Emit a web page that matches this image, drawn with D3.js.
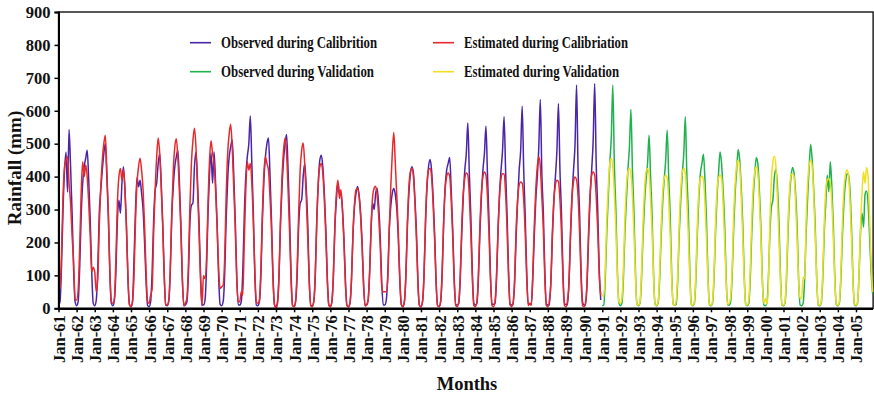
<!DOCTYPE html>
<html>
<head>
<meta charset="utf-8">
<script src="https://cdn.jsdelivr.net/npm/d3@7"></script>
<style>
  body { margin: 0; background: #fff; }
  svg text { font-family: "Liberation Serif", "Times New Roman", serif; font-weight: bold; fill: #111; }
</style>
</head>
<body>
<svg id="chart" width="874" height="395"></svg>
<script>
// Monthly rainfall (mm), Jan-61 .. Dec-90, one row per year
const obsCal = [
  10, 20, 130, 300, 420, 474, 353, 543, 430, 290, 120, 20,  // 1961
  8, 20, 120, 280, 380, 430, 455, 480, 390, 270, 110, 15,   // 1962
  8, 25, 120, 290, 360, 420, 470, 500, 400, 280, 110, 15,   // 1963
  8, 25, 110, 270, 328, 289, 380, 430, 360, 250, 90, 10,    // 1964
  5, 20, 150, 300, 398, 369, 389, 350, 300, 200, 80, 8,     // 1965
  5, 20, 110, 270, 359, 380, 440, 470, 380, 260, 100, 10,   // 1966
  8, 20, 110, 280, 370, 430, 460, 480, 390, 260, 90, 8,     // 1967
  10, 20, 100, 260, 313, 320, 430, 475, 390, 270, 110, 12,  // 1968
  10, 25, 120, 290, 410, 472, 380, 475, 380, 260, 100, 12,  // 1969
  8, 20, 100, 270, 390, 460, 490, 511, 410, 270, 100, 10,   // 1970
  10, 20, 110, 280, 400, 460, 500, 584, 440, 290, 100, 10,  // 1971
  8, 20, 100, 270, 390, 460, 500, 517, 410, 270, 100, 10,   // 1972
  5, 20, 100, 260, 370, 450, 500, 528, 420, 280, 100, 8,    // 1973
  5, 20, 100, 250, 319, 330, 400, 440, 370, 260, 90, 8,     // 1974
  8, 20, 100, 270, 380, 450, 465, 430, 350, 240, 90, 10,    // 1975
  5, 20, 100, 250, 330, 381, 350, 345, 300, 210, 80, 8,     // 1976
  5, 15, 90, 230, 310, 350, 370, 345, 290, 200, 70, 8,      // 1977
  10, 25, 110, 250, 319, 300, 350, 365, 310, 220, 80, 10,   // 1978
  10, 25, 100, 240, 310, 350, 364, 345, 300, 210, 80, 10,   // 1979
  5, 20, 100, 250, 350, 410, 430, 410, 330, 230, 80, 8,     // 1980
  5, 20, 100, 260, 370, 430, 452, 420, 340, 230, 80, 8,     // 1981
  5, 20, 110, 260, 370, 420, 440, 458, 360, 240, 90, 10,    // 1982
  10, 15, 90, 230, 340, 420, 470, 563, 410, 280, 110, 15,   // 1983
  10, 15, 90, 230, 340, 420, 470, 553, 410, 270, 100, 12,   // 1984
  12, 15, 90, 230, 350, 420, 480, 582, 420, 280, 110, 12,   // 1985
  10, 10, 80, 220, 330, 420, 480, 614, 420, 280, 110, 12,   // 1986
  12, 10, 90, 220, 330, 400, 490, 634, 410, 290, 110, 12,   // 1987
  10, 10, 80, 220, 330, 400, 480, 622, 420, 290, 110, 12,   // 1988
  12, 10, 80, 220, 340, 420, 500, 678, 420, 290, 110, 18,   // 1989
  10, 10, 80, 220, 340, 420, 510, 683, 440, 300, 120, 25    // 1990
];
const estCal = [
  55, 60, 170, 340, 430, 450, 460, 380, 320, 220, 140, 25,  // 1961
  25, 55, 180, 350, 445, 400, 435, 400, 320, 220, 110, 125, // 1962
  110, 50, 90, 250, 370, 450, 500, 526, 420, 290, 110, 20,  // 1963
  15, 30, 150, 320, 400, 425, 390, 420, 360, 240, 90, 12,   // 1964
  5, 20, 100, 270, 380, 430, 456, 420, 360, 250, 110, 20,   // 1965
  15, 40, 60, 230, 360, 460, 517, 470, 370, 250, 100, 12,   // 1966
  10, 25, 120, 290, 420, 490, 515, 460, 360, 240, 90, 8,    // 1967
  15, 30, 130, 310, 440, 510, 547, 490, 370, 240, 90, 8,    // 1968
  100, 90, 150, 320, 450, 509, 470, 440, 360, 250, 120, 60, // 1969
  65, 70, 150, 340, 470, 530, 559, 490, 370, 250, 90, 20,   // 1970
  20, 50, 40, 200, 360, 445, 420, 440, 380, 260, 110, 20,   // 1971
  15, 25, 120, 290, 410, 460, 440, 420, 340, 240, 90, 12,   // 1972
  0, 15, 100, 270, 400, 480, 517, 470, 360, 230, 80, 8,     // 1973
  5, 25, 120, 290, 420, 480, 502, 440, 340, 220, 80, 8,     // 1974
  5, 20, 100, 260, 380, 430, 440, 410, 330, 220, 80, 8,     // 1975
  5, 20, 100, 250, 350, 389, 334, 360, 300, 200, 70, 8,     // 1976
  5, 18, 90, 230, 320, 360, 365, 340, 280, 190, 70, 8,      // 1977
  10, 25, 110, 250, 340, 365, 371, 340, 280, 190, 70, 50,   // 1978
  50, 50, 90, 240, 370, 470, 534, 440, 340, 230, 90, 12,    // 1979
  5, 20, 100, 260, 370, 415, 425, 400, 320, 210, 70, 8,     // 1980
  5, 20, 100, 270, 380, 420, 425, 400, 320, 210, 80, 8,     // 1981
  5, 20, 100, 260, 360, 400, 411, 400, 330, 220, 80, 8,     // 1982
  5, 20, 100, 250, 350, 395, 411, 405, 340, 230, 90, 8,     // 1983
  5, 20, 100, 250, 350, 400, 414, 405, 340, 230, 90, 8,     // 1984
  5, 20, 100, 240, 340, 395, 409, 408, 350, 240, 90, 10,    // 1985
  5, 20, 90, 240, 330, 375, 384, 380, 330, 230, 90, 8,      // 1986
  15, 10, 100, 250, 360, 430, 460, 430, 340, 240, 90, 8,    // 1987
  5, 25, 80, 230, 330, 375, 389, 385, 330, 230, 90, 8,      // 1988
  5, 25, 80, 230, 340, 385, 399, 390, 340, 230, 90, 8,      // 1989
  5, 20, 90, 240, 350, 405, 414, 405, 340, 240, 100, 40     // 1990
];
// Jan-91 .. Dec-05
const obsVal = [
  8, 10, 90, 230, 340, 440, 520, 678, 440, 300, 120, 18,    // 1991
  8, 15, 90, 230, 330, 420, 490, 604, 420, 290, 110, 12,    // 1992
  8, 15, 90, 220, 320, 390, 440, 526, 400, 280, 100, 12,    // 1993
  8, 15, 90, 220, 320, 390, 450, 541, 400, 280, 100, 12,    // 1994
  10, 12, 90, 230, 330, 410, 470, 582, 410, 290, 110, 12,   // 1995
  8, 15, 90, 230, 340, 410, 440, 468, 390, 270, 100, 10,    // 1996
  8, 15, 90, 230, 340, 410, 475, 440, 360, 260, 100, 10,    // 1997
  10, 20, 100, 240, 350, 420, 482, 450, 370, 260, 100, 12,  // 1998
  8, 15, 90, 230, 340, 410, 458, 440, 360, 250, 90, 10,     // 1999
  8, 15, 90, 230, 308, 330, 400, 422, 370, 260, 100, 10,    // 2000
  8, 15, 90, 230, 340, 400, 428, 410, 350, 250, 90, 10,     // 2001
  8, 15, 90, 230, 340, 430, 498, 450, 360, 250, 90, 10,     // 2002
  8, 15, 90, 230, 320, 404, 354, 445, 370, 250, 90, 10,     // 2003
  8, 15, 90, 220, 320, 380, 409, 405, 360, 250, 90, 10,     // 2004
  8, 15, 100, 230, 289, 247, 346, 356, 320, 220, 110, 45    // 2005
];
const estVal = [
  40, 35, 120, 270, 370, 440, 455, 430, 350, 240, 100, 20,  // 1991
  15, 30, 120, 270, 370, 415, 425, 410, 340, 230, 90, 12,   // 1992
  10, 20, 110, 260, 360, 415, 425, 410, 330, 230, 90, 12,   // 1993
  10, 20, 110, 250, 350, 395, 404, 395, 330, 220, 85, 12,   // 1994
  10, 25, 110, 260, 360, 415, 425, 410, 330, 220, 85, 12,   // 1995
  10, 20, 110, 260, 360, 395, 401, 390, 320, 210, 80, 12,   // 1996
  10, 20, 110, 260, 360, 395, 404, 395, 320, 210, 80, 12,   // 1997
  15, 35, 120, 280, 380, 435, 450, 430, 340, 220, 85, 12,   // 1998
  10, 25, 120, 270, 370, 415, 430, 410, 330, 220, 80, 15,   // 1999
  30, 12, 70, 260, 390, 445, 462, 430, 330, 210, 80, 12,    // 2000
  10, 20, 110, 260, 360, 405, 409, 400, 320, 210, 80, 30,   // 2001
  30, 95, 90, 270, 380, 435, 450, 430, 340, 220, 85, 12,    // 2002
  10, 20, 110, 260, 360, 390, 394, 380, 320, 210, 80, 12,   // 2003
  10, 20, 110, 260, 360, 405, 420, 405, 330, 210, 80, 12,   // 2004
  10, 20, 100, 250, 350, 414, 380, 428, 400, 280, 140, 50   // 2005
];

const tickLabels = [
  "Jan-61", "Jan-62", "Jan-63", "Jan-64", "Jan-65", "Jan-66", "Jan-67", "Jan-68", "Jan-69",
  "Jan-70", "Jan-71", "Jan-72", "Jan-73", "Jan-74", "Jan-75", "Jan-76", "Jan-77", "Jan-78",
  "Jan-79", "Jan-80", "Jan-81", "Jan-82", "Jan-83", "Jan-84", "Jan-85", "Jan-86", "Jan-87",
  "Jan-88", "Jan-89", "Jan-90", "Jan-91", "Jan-92", "Jan-93", "Jan-94", "Jan-95", "Jan-96",
  "Jan-97", "Jan-98", "Jan-99", "Jan-00", "Jan-01", "Jan-02", "Jan-03", "Jan-04", "Jan-05"
];
const yTicks = [0, 100, 200, 300, 400, 500, 600, 700, 800, 900];

const seriesNames = ["Observed during Calibrition", "Estimated during Calibriation",
                     "Observed during Validation", "Estimated during Validation"];
const seriesColors = ["#4a25a8", "#e8292b", "#1fb24e", "#f0df1e"];

const nMonths = obsCal.length + obsVal.length;
const plotL = 58.5, plotR = 872.6, plotT = 12, plotB = 308.3;
const serif = "'Liberation Serif', 'Times New Roman', serif";

const svg = d3.select("#chart");

const x = d3.scaleLinear().domain([0, nMonths - 1]).range([plotL, plotR]);
const y = d3.scaleLinear().domain([0, 900]).range([plotB, plotT]);

// frame
svg.append("rect")
  .attr("x", plotL).attr("y", plotT)
  .attr("width", plotR - plotL + 0.5).attr("height", plotB - plotT)
  .attr("fill", "none").attr("stroke", "#000").attr("stroke-width", 1.3);

// series
const line = d3.line()
  .x(d => x(d[0]))
  .y(d => y(d[1]))
  .curve(d3.curveMonotoneX);

const series = [
  obsCal.map((v, i) => [i, v]),
  estCal.map((v, i) => [i, v]),
  obsVal.map((v, i) => [i + obsCal.length, v]),
  estVal.map((v, i) => [i + obsCal.length, v])
];

series.forEach((s, k) => {
  svg.append("path")
    .datum(s)
    .attr("d", line)
    .attr("fill", "none")
    .attr("stroke", seriesColors[k])
    .attr("stroke-width", 1.5)
    .attr("stroke-linejoin", "round");
});

// y axis
const yAxis = d3.axisLeft(y).tickValues(yTicks).tickSize(4).tickPadding(4);
const gy = svg.append("g").attr("transform", `translate(${plotL},0)`).call(yAxis);
gy.select(".domain").attr("stroke", "#000").attr("stroke-width", 2);
gy.selectAll(".tick line").attr("stroke", "#000").attr("stroke-width", 1.5);
gy.selectAll(".tick text")
  .style("font-size", "16.5px")
  .style("font-family", serif)
  .style("font-weight", "bold")
  .attr("fill", "#111");

// x axis: one tick each January
const xAxis = d3.axisBottom(x)
  .tickValues(tickLabels.map((t, i) => i * 12))
  .tickFormat((d, i) => tickLabels[i])
  .tickSize(4)
  .tickSizeOuter(0);
const gx = svg.append("g").attr("transform", `translate(0,${plotB})`).call(xAxis);
gx.select(".domain").attr("stroke", "#000").attr("stroke-width", 2.2);
gx.selectAll(".tick line").attr("stroke", "#000").attr("stroke-width", 1.5);
gx.selectAll(".tick text")
  .attr("transform", "rotate(-90)")
  .attr("x", -7)
  .attr("y", 0)
  .attr("dy", "0.36em")
  .attr("text-anchor", "end")
  .style("font-size", "16.5px")
  .style("font-family", serif)
  .style("font-weight", "bold")
  .attr("fill", "#111");

// axis titles
svg.append("text")
  .attr("transform", "translate(21,168) rotate(-90)")
  .attr("text-anchor", "middle")
  .style("font-size", "19px")
  .text("Rainfall (mm)");

svg.append("text")
  .attr("x", 467).attr("y", 390)
  .attr("text-anchor", "middle")
  .style("font-size", "18.5px")
  .text("Months");

// legend
const legendPos = [[190, 42.7], [433, 42.7], [190, 71.7], [433, 71.7]];
const legendWidths = [156, 164, 153, 155];
seriesNames.forEach((name, k) => {
  const [lx, ly] = legendPos[k];
  svg.append("line")
    .attr("x1", lx).attr("x2", lx + 21)
    .attr("y1", ly).attr("y2", ly)
    .attr("stroke", seriesColors[k]).attr("stroke-width", 1.6);
  svg.append("text")
    .attr("x", lx + 31).attr("y", ly + 5)
    .attr("textLength", legendWidths[k])
    .attr("lengthAdjust", "spacingAndGlyphs")
    .style("font-size", "16.5px")
    .text(name);
});
</script>
</body>
</html>
